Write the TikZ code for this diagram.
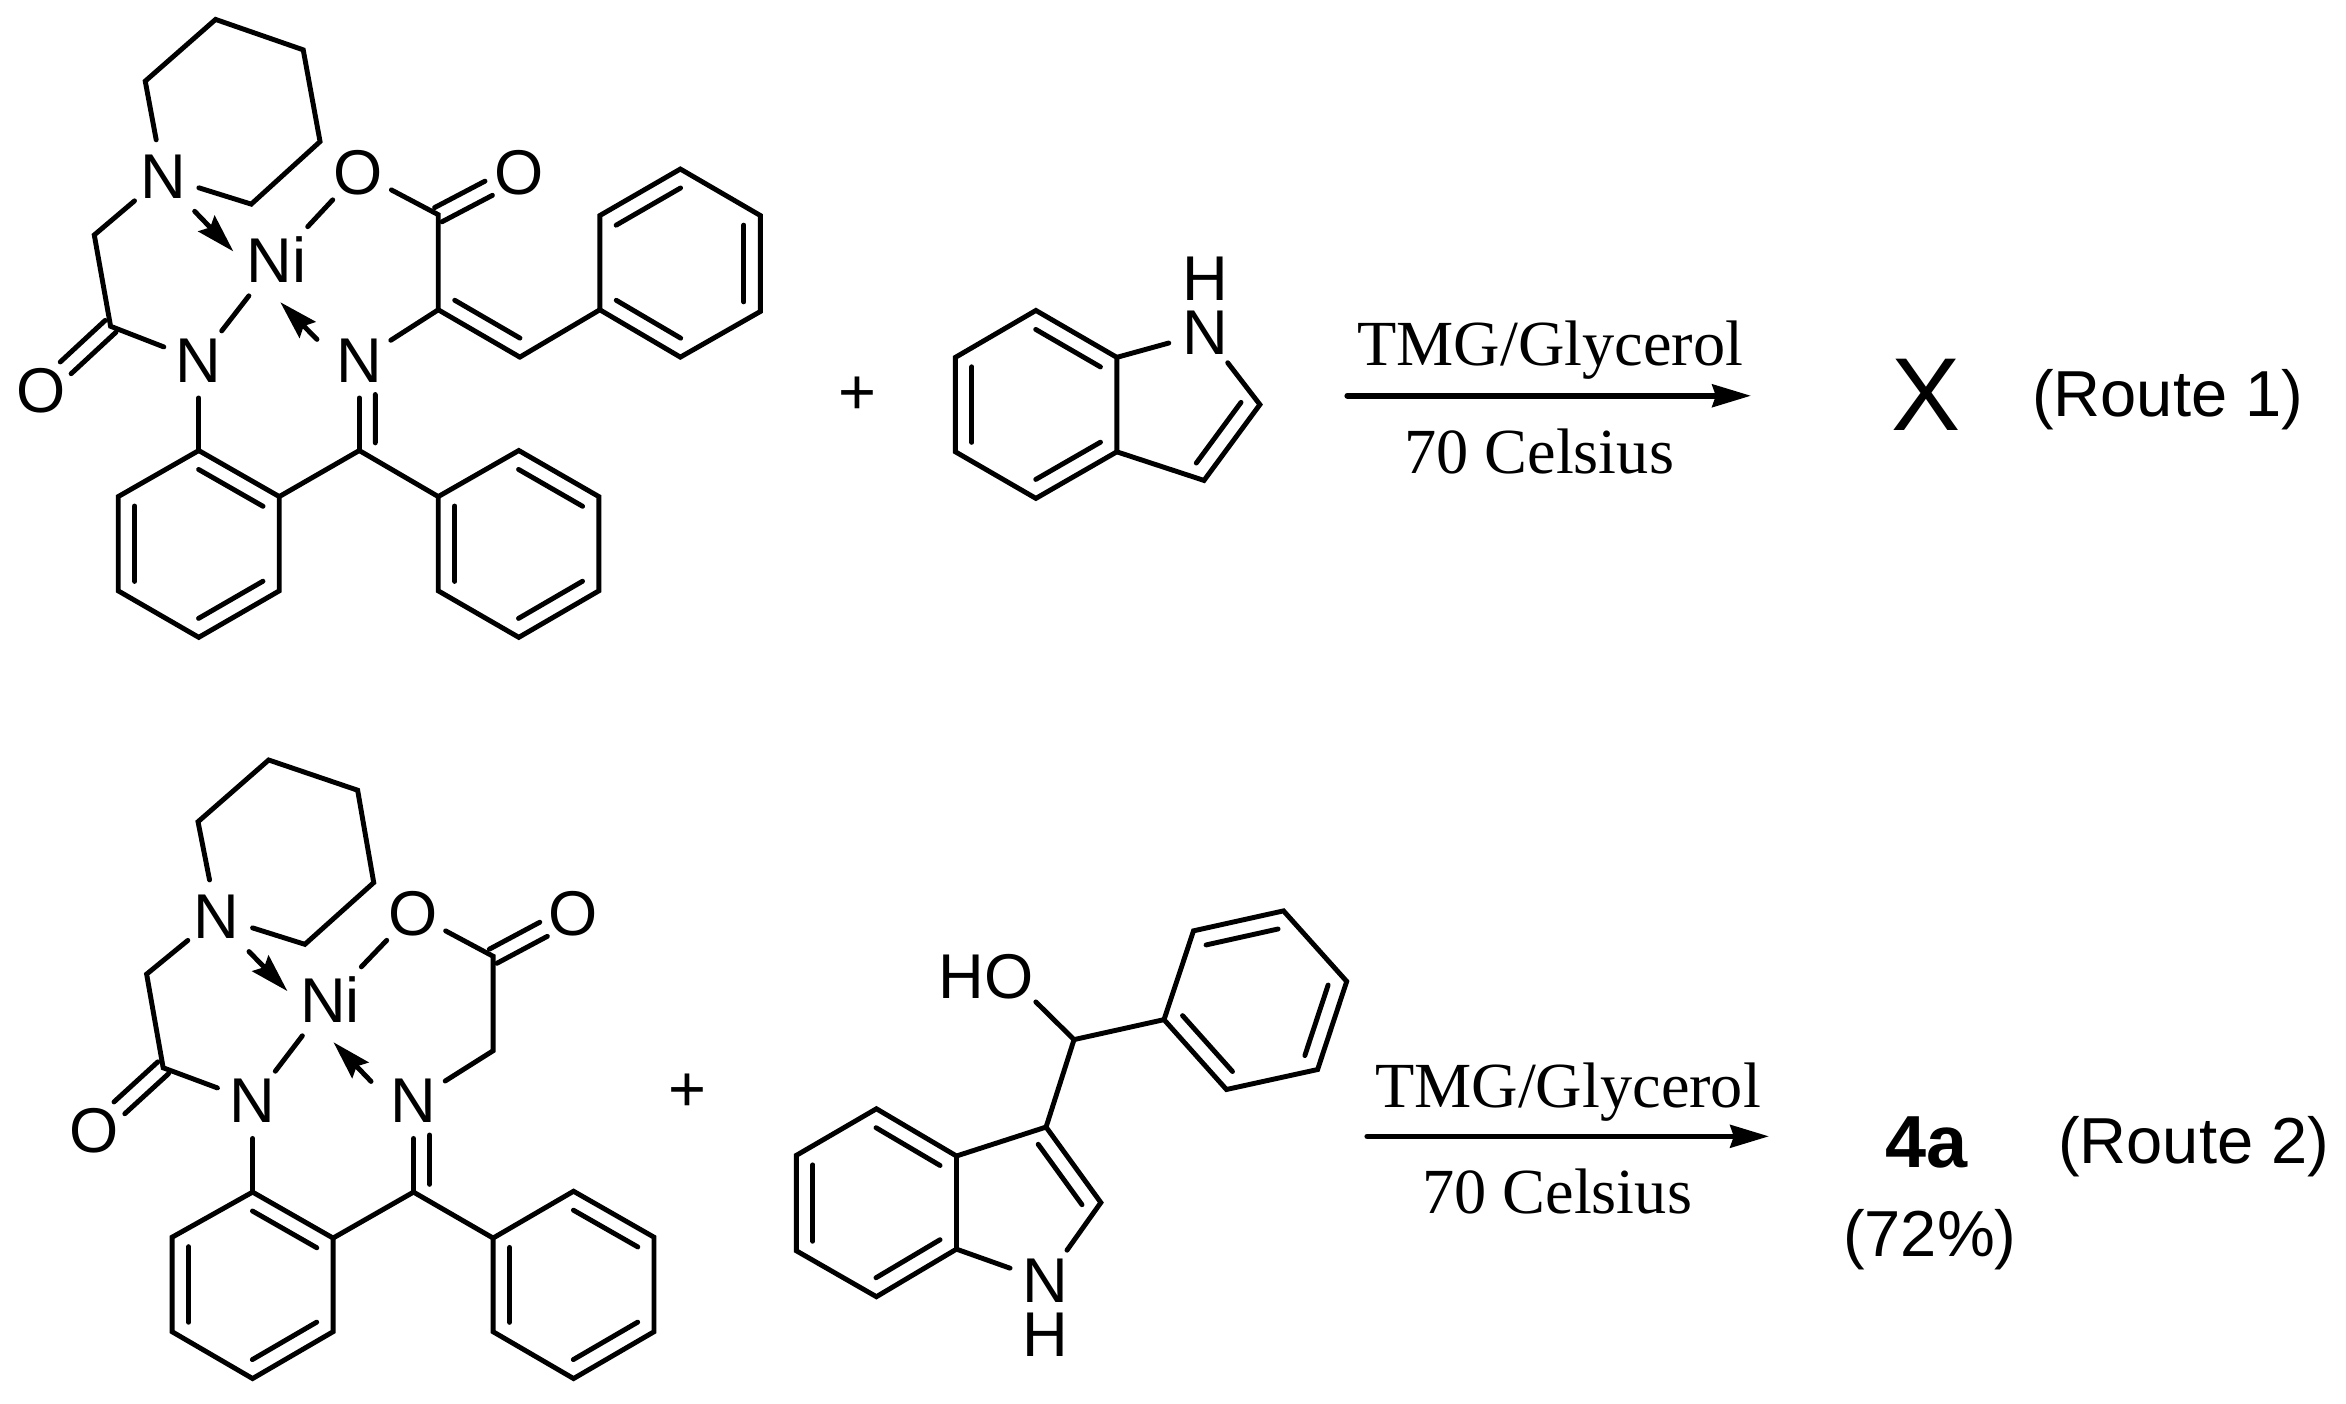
\documentclass[tikz,border=0pt]{standalone}
\usepackage{fontspec}
\setmainfont{Liberation Serif}
\setsansfont{Liberation Sans}
\usetikzlibrary{calc,arrows.meta}
\def\hexring#1(#2)(#3)(#4)(#5)(#6)(#7){\draw (#2) coordinate (#1a) -- (#3) coordinate (#1b) -- (#4) coordinate (#1c) -- (#5) coordinate (#1d) -- (#6) coordinate (#1e) -- (#7) coordinate (#1f) -- cycle;}
\def\innerbond#1#2#3{\draw ($(#1)!.1!(#2)!.165cm!#3:(#2)$) -- ($(#2)!.1!(#1)!.165cm!-#3:(#1)$);}
\def\twinbond#1#2{\draw ($(#1)!.08cm!90:(#2)$) -- ($(#2)!.34cm!(#1)!.08cm!-90:(#1)$); \draw ($(#1)!.08cm!-90:(#2)$) -- ($(#2)!.34cm!(#1)!.08cm!90:(#1)$);}
\def\iminebond#1#2{\draw (#1) -- (#2); \draw ($(#1)!.34cm!(#2)!.16cm!90:(#2)$) -- ($(#2)!.085!(#1)!.16cm!-90:(#1)$);}
\tikzset{
	atom/.style={circle, minimum size=.7cm, inner sep=0pt, font=\sffamily\fontsize{18}{20}\selectfont},
	metal/.style={atom, minimum size=.86cm},
	plainatom/.style={inner sep=0pt, font=\sffamily\fontsize{18}{20}\selectfont},
	dative/.style={-{Stealth[length=11pt,width=6.4pt,inset=1.5pt]}},
	rxnarrow/.style={-{Stealth[length=11pt,width=6.4pt,inset=1pt]}, line width=1.6pt},
	reagent/.style={font=\fontsize{18.3}{20}\selectfont},
	routetext/.style={font=\sffamily\fontsize{18.5}{20}\selectfont}
}

\begin{document}
\begin{tikzpicture}[line width=1.4pt, line cap=round]
	\useasboundingbox (0,0) rectangle (23.46,-14.04);

	%%%%% ROUTE 1 %%%%%
	\begin{scope}[x=.005102cm, y=-.00423cm]
		\node[atom] (tnp) at (320,418) {N};
		\node[atom] (tna) at (390,853) {N};
		\node[atom] (tni) at (705,853) {N};
		\node[metal] (tm) at (543,615) {Ni};
		\node[atom] (too) at (703,408) {O};
		\node[atom] (toc) at (1018,408) {O};
		\node[atom] (toa) at (80,925) {O};
		\coordinate (tch) at (185,556);
		\coordinate (tca) at (217,772);
		\coordinate (tcc) at (860,508);
		\coordinate (tcv) at (860,733);
		\coordinate (tcb) at (1020,845);
		\coordinate (tci) at (705,1066);
		\coordinate (tda) at (382,500);
		\coordinate (tdb) at (458,595);
		\coordinate (tdc) at (622,803);
		\coordinate (tdd) at (550,715);

		\draw (tnp) -- (285,192) -- (423,46) -- (595,118) -- (628,335) -- (493,483) -- (tnp);
		\draw (tnp) -- (tch) -- (tca) -- (tna);
		\twinbond{tca}{toa}
		\draw[dative] (tda) -- (tdb);
		\draw (tna) -- (tm);
		\draw (too) -- (tm);
		\draw[dative] (tdc) -- (tdd);
		\draw (too) -- (tcc) -- (tcv) -- (tni);
		\twinbond{tcc}{toc}
		\draw (tcv) -- (tcb);
		\innerbond{tcv}{tcb}{90}

		\hexring{tp}(1177,733)(1177,510)(1335,400)(1492,510)(1492,737)(1335,845)
		\innerbond{tpb}{tpc}{-90}
		\innerbond{tpd}{tpe}{-90}
		\innerbond{tpf}{tpa}{-90}
		\draw (tcb) -- (tpa);

		\hexring{tr}(390,1066)(548,1175)(548,1398)(390,1508)(232,1398)(232,1175)
		\innerbond{tra}{trb}{-90}
		\innerbond{trc}{trd}{-90}
		\innerbond{tre}{trf}{-90}
		\draw (tna) -- (tra);
		\draw (trb) -- (tci);
		\iminebond{tni}{tci}

		\hexring{ts}(860,1175)(1018,1066)(1175,1175)(1175,1398)(1018,1508)(860,1398)
		\innerbond{tsb}{tsc}{-90}
		\innerbond{tsd}{tse}{-90}
		\innerbond{tsf}{tsa}{-90}
		\draw (tci) -- (tsa);
	\end{scope}

	%%%%% INDOLE %%%%%
	\begin{scope}[shift={(9cm,-2.2cm)}, x=.004464cm, y=-.003333cm]
		\node[atom] (inn) at (682,340) {N};
		\node[plainatom] (inh) at (682,177) {H};
		\coordinate (ica) at (805,555);
		\coordinate (icb) at (680,783);
		\hexring{ib}(485,413)(304,272)(124,413)(124,697)(304,837)(485,697)
		\innerbond{iba}{ibb}{90}
		\innerbond{ibc}{ibd}{90}
		\innerbond{ibe}{ibf}{90}
		\draw (iba) -- (inn) -- (ica) -- (icb) -- (ibf);
		\innerbond{ica}{icb}{-90}
	\end{scope}

	%%%%% ROUTE 2 %%%%%
	\begin{scope}[shift={(0cm,-7.4cm)}, x=.004464cm, y=-.004255cm]
		\node[atom] (bnp) at (485,415) {N};
		\node[atom] (bna) at (565,848) {N};
		\node[atom] (bni) at (925,848) {N};
		\node[metal] (bm) at (738,610) {Ni};
		\node[atom] (boo) at (923,407) {O};
		\node[atom] (boc) at (1283,407) {O};
		\node[atom] (boa) at (211,918) {O};
		\coordinate (bch) at (328,550);
		\coordinate (bca) at (365,770);
		\coordinate (bcc) at (1103,508);
		\coordinate (bcv) at (1103,730);
		\coordinate (bci) at (925,1062);
		\coordinate (bda) at (557,497);
		\coordinate (bdb) at (643,590);
		\coordinate (bdc) at (830,802);
		\coordinate (bdd) at (746,710);

		\draw (bnp) -- (443,192) -- (601,47) -- (800,118) -- (836,335) -- (682,480) -- (bnp);
		\draw (bnp) -- (bch) -- (bca) -- (bna);
		\twinbond{bca}{boa}
		\draw[dative] (bda) -- (bdb);
		\draw (bna) -- (bm);
		\draw (boo) -- (bm);
		\draw[dative] (bdc) -- (bdd);
		\draw (boo) -- (bcc) -- (bcv) -- (bni);
		\twinbond{bcc}{boc}

		\hexring{br}(565,1062)(745,1170)(745,1390)(565,1500)(385,1390)(385,1168)
		\innerbond{bra}{brb}{-90}
		\innerbond{brc}{brd}{-90}
		\innerbond{bre}{brf}{-90}
		\draw (bna) -- (bra);
		\draw (brb) -- (bci);
		\iminebond{bni}{bci}

		\hexring{bs}(1103,1170)(1283,1060)(1463,1168)(1463,1390)(1283,1500)(1103,1390)
		\innerbond{bsb}{bsc}{-90}
		\innerbond{bsd}{bse}{-90}
		\innerbond{bsf}{bsa}{-90}
		\draw (bci) -- (bsa);
	\end{scope}

	%%%%% PHENYL INDOLYL CARBINOL %%%%%
	\begin{scope}[shift={(7.6cm,-8.6cm)}, x=.003827cm, y=-.003333cm]
		\node[plainatom] (cho) at (590,352) {HO};
		\node[atom] (cnn) at (745,1265) {N};
		\node[plainatom] (cnh) at (745,1427) {H};
		\coordinate (ccm) at (820,540);
		\coordinate (cca) at (747,803);
		\coordinate (ccb) at (890,1030);
		\hexring{cp}(1055,480)(1132,213)(1367,153)(1532,365)(1456,630)(1218,690)
		\innerbond{cpb}{cpc}{-90}
		\innerbond{cpd}{cpe}{-90}
		\innerbond{cpf}{cpa}{-90}
		\draw (cho.south east) -- (ccm) -- (cpa);
		\hexring{cb}(513,890)(304,748)(95,888)(95,1175)(304,1313)(513,1170)
		\innerbond{cba}{cbb}{90}
		\innerbond{cbc}{cbd}{90}
		\innerbond{cbe}{cbf}{90}
		\draw (ccm) -- (cca) -- (ccb) -- (cnn) -- (cbf);
		\draw (cba) -- (cca);
		\innerbond{cca}{ccb}{-90}
	\end{scope}

	%%%%% LABELS %%%%%
	\begin{scope}[x=.01cm, y=-.01cm]
		\node[routetext] (plusa) at (858,396) {+};
		\node[routetext] (plusb) at (688,1093) {+};

		\coordinate (arrowas) at (1348,396);
		\coordinate (arrowae) at (1752,396);
		\draw[rxnarrow] (arrowas) -- (arrowae);
		\node[reagent] (tmga) at (1551,350) {TMG/Glycerol};
		\node[reagent] (tempa) at (1540,452) {70 Celsius};
		\node[font=\sffamily\fontsize{29.5}{32}\selectfont] (prodx) at (1927,395) {X};
		\node[routetext] (routea) at (2169,399.5) {(Route 1)};

		\coordinate (arrowbs) at (1368,1137);
		\coordinate (arrowbe) at (1770,1137);
		\draw[rxnarrow] (arrowbs) -- (arrowbe);
		\node[reagent] (tmgb) at (1569,1093) {TMG/Glycerol};
		\node[reagent] (tempb) at (1558,1192) {70 Celsius};
		\node[font=\sffamily\bfseries\fontsize{21}{24}\selectfont] (prodb) at (1928,1143) {4a};
		\node[routetext] (yieldb) at (1931,1240) {(72\%)};
		\node[routetext] (routeb) at (2195,1147) {(Route 2)};
	\end{scope}
\end{tikzpicture}
\end{document}
